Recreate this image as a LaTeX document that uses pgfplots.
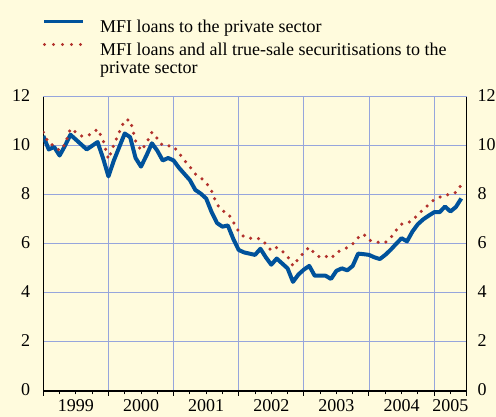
\documentclass[border=0pt]{standalone}
\usepackage{pgfplots}
\usepackage{pgfplotstable}
\pgfplotsset{compat=1.18}
\usepackage{fontspec}
\setmainfont{Liberation Serif}
\definecolor{bg}{RGB}{255,251,221}
\definecolor{gridc}{RGB}{150,165,220}
\definecolor{mfiblue}{RGB}{0,82,155}
\definecolor{mfired}{RGB}{178,50,45}
\newcommand\fs{\fontsize{18}{18.4}\selectfont}
\pgfplotstableread{
m v
0 10.4
1 9.85
2 9.95
3 9.6
4 10.0
5 10.45
6 10.25
7 10.05
8 9.85
9 10.0
10 10.15
11 9.5
12 8.75
13 9.4
14 9.95
15 10.5
16 10.35
17 9.5
18 9.15
19 9.6
20 10.1
21 9.8
22 9.4
23 9.5
24 9.4
25 9.1
26 8.85
27 8.6
28 8.2
29 8.05
30 7.85
31 7.3
32 6.85
33 6.7
34 6.75
35 6.2
36 5.75
37 5.65
38 5.6
39 5.55
40 5.8
41 5.45
42 5.15
43 5.4
44 5.2
45 5.0
46 4.45
47 4.75
48 4.95
49 5.1
50 4.7
51 4.7
52 4.7
53 4.57
54 4.9
55 5.0
56 4.92
57 5.1
58 5.6
59 5.58
60 5.55
61 5.45
62 5.38
63 5.55
64 5.76
65 6.0
66 6.23
67 6.1
68 6.5
69 6.8
70 7.0
71 7.15
72 7.29
73 7.29
74 7.52
75 7.32
76 7.5
77 7.85
}\loans
\pgfplotstableread{
m v
0 10.55
1 10.1
2 10.0
3 9.8
4 10.05
5 10.7
6 10.55
7 10.4
8 10.4
9 10.5
10 10.68
11 10.25
12 9.45
13 10.05
14 10.55
15 11.05
16 11.05
17 10.2
18 9.8
19 10.1
20 10.55
21 10.3
22 10.0
23 10.0
24 9.97
25 9.7
26 9.4
27 9.15
28 8.85
29 8.7
30 8.5
31 8.15
32 7.6
33 7.35
34 7.25
35 6.9
36 6.5
37 6.28
38 6.23
39 6.23
40 6.2
41 6.0
42 5.72
43 5.85
44 5.7
45 5.5
46 5.1
47 5.4
48 5.65
49 5.87
50 5.6
51 5.45
52 5.5
53 5.4
54 5.65
55 5.75
56 5.85
57 6.0
58 6.25
59 6.4
60 6.15
61 6.1
62 6.05
63 6.05
64 6.25
65 6.55
66 6.8
67 6.85
68 6.95
69 7.2
70 7.4
71 7.6
72 7.8
73 7.9
74 8.0
75 8.0
76 8.1
77 8.4
}\securit
\begin{document}
\begin{tikzpicture}[font=\fs]
\path[use as bounding box, fill=bg] (0,0) rectangle (496pt,417pt);
\begin{axis}[
  at={(43.3pt,26pt)}, anchor=south west,
  scale only axis, width=423.4pt, height=294.3pt,
  xmin=0, xmax=78, ymin=0, ymax=12,
  axis x line*=bottom, axis y line*=left,
  axis line style={black, line width=1.1pt, -},
  xtick={0,12,...,72,78}, xticklabels={},
  minor xtick={3,6,...,78},
  tick align=outside, major tick length=5pt, minor tick length=3.5pt,
  tick style={black, line width=1pt},
  ytick={0,2,...,12}, ytick style={draw=none},
  grid=major, grid style={gridc, line width=0.9pt},
  extra x ticks={6,18,30,42,54,66,75},
  extra x tick labels={1999,2000,2001,2002,2003,2004,2005},
  extra x tick style={major tick length=0pt, grid=none, xticklabel style={yshift=-5pt}},
  /pgf/number format/assume math mode=true,
  yticklabel={\pgfmathprintnumber{\tick}},
  yticklabel style={xshift=-4.6pt, yshift=1.5pt},
  tick label style={font=\fs},
  legend cell align=left,
  legend style={at={(0,1)}, anchor=north west, xshift=-1pt, yshift=79.5pt,
    draw=none, fill=none, inner sep=0pt, row sep=4.3pt, column sep=14pt, font=\fs,
    cells={inner sep=0pt, text height=13pt, text depth=4pt}},
]
\addplot[mfiblue, line width=4pt, line join=round,
  legend image code/.code={\path (0pt,0pt); \draw[mfiblue, line width=3pt] (0pt,5pt) -- (38pt,5pt);}]
  table[x=m, y=v] {\loans};
\addlegendentry{MFI loans to the private sector}
\addplot[mfired, line width=3.5pt, line cap=round, dash pattern=on 0pt off 8pt,
  legend image code/.code={\path (0pt,0pt); \draw[mfired, line width=3.2pt, line cap=round, dash pattern=on 0pt off 9pt] (0pt,5pt) -- (38pt,5pt);}]
  table[x=m, y=v] {\securit};
\addlegendentry{\parbox[t]{380pt}{MFI loans and all true-sale securitisations to the\\private sector}}
\end{axis}
\begin{axis}[
  at={(43.3pt,26pt)}, anchor=south west,
  scale only axis, width=423.4pt, height=294.3pt,
  xmin=0, xmax=78, ymin=0, ymax=12,
  axis x line=none, axis y line*=right,
  axis line style={black, line width=1.1pt, -},
  ytick={0,2,...,12}, ytick style={draw=none},
  /pgf/number format/assume math mode=true,
  yticklabel={\pgfmathprintnumber{\tick}},
  yticklabel style={xshift=7.3pt, yshift=1.5pt},
  tick label style={font=\fs},
]
\end{axis}
\end{tikzpicture}
\end{document}
